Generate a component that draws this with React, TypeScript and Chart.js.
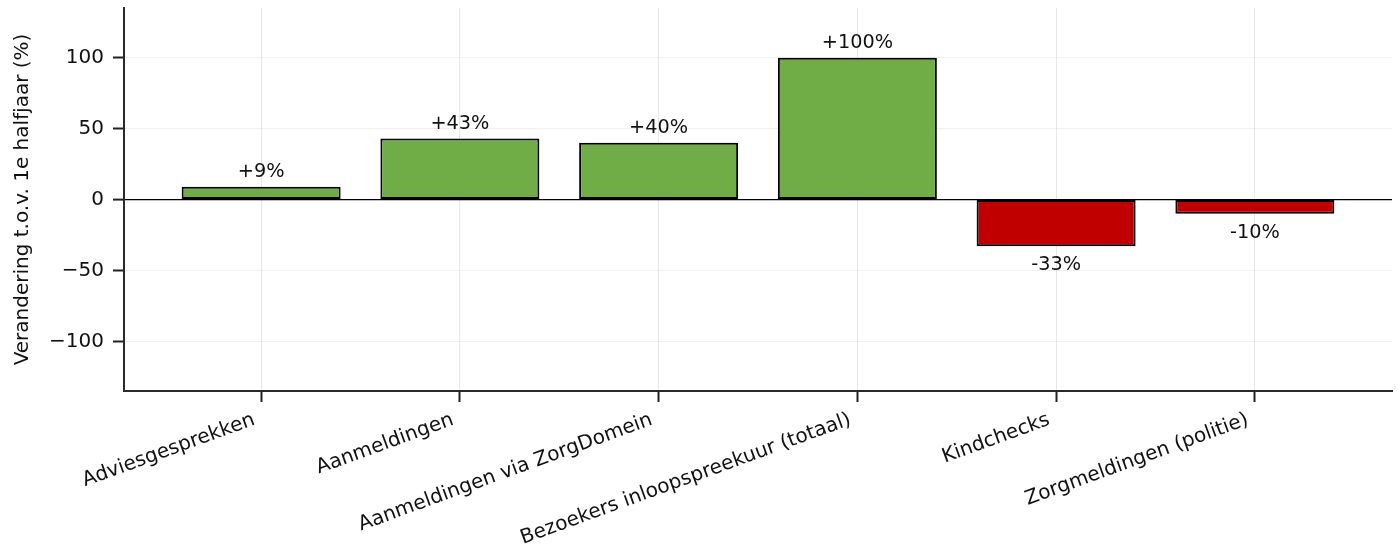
import React, { useEffect, useRef } from 'react';
import { Chart, registerables } from 'chart.js';

Chart.register(...registerables);

// ---- Data ----
const categories: string[] = [
  'Adviesgesprekken',
  'Aanmeldingen',
  'Aanmeldingen via ZorgDomein',
  'Bezoekers inloopspreekuur (totaal)',
  'Kindchecks',
  'Zorgmeldingen (politie)',
];
const changes: number[] = [9, 43, 40, 100, -33, -10];
const barLabels: string[] = ['+9%', '+43%', '+40%', '+100%', '-33%', '-10%'];
const yTickValues: number[] = [-100, -50, 0, 50, 100];
const yAxisTitle = 'Verandering t.o.v. 1e halfjaar (%)';

// ---- Styles ----
const FONT = '"DejaVu Sans", sans-serif';
const GREEN = '#70AD47';
const RED = '#C00000';
const TEXT = '#111111';

const barLabelPlugin = {
  id: 'barLabels',
  afterDatasetsDraw(chart: any) {
    const ctx = chart.ctx;
    const meta = chart.getDatasetMeta(0);
    ctx.save();
    ctx.font = `19.3px ${FONT}`;
    ctx.fillStyle = TEXT;
    ctx.textAlign = 'center';
    ctx.textBaseline = 'alphabetic';
    meta.data.forEach((el: any, i: number) => {
      const { x, y } = el.getProps(['x', 'y'], true);
      if (changes[i] >= 0) ctx.fillText(barLabels[i], x, y - 10);
      else ctx.fillText(barLabels[i], x, y + 24);
    });
    ctx.restore();
  },
};

export default function App() {
  const canvasRef = useRef<HTMLCanvasElement | null>(null);

  useEffect(() => {
    if (!canvasRef.current) return;
    const chart = new Chart(canvasRef.current, {
      type: 'bar',
      data: {
        datasets: [
          {
            data: changes.map((v, i) => ({ x: i, y: v })),
            backgroundColor: changes.map((v) => (v >= 0 ? GREEN : RED)),
            borderColor: '#000000',
            borderWidth: 2,
            borderSkipped: false,
            barPercentage: 0.8,
            categoryPercentage: 1.0,
          } as any,
        ],
      },
      options: {
        animation: false,
        responsive: false,
        devicePixelRatio: 1,
        layout: { padding: { top: 8, right: 6, left: 0, bottom: 0 } },
        plugins: {
          legend: { display: false },
          tooltip: { enabled: false },
          title: { display: false },
        },
        scales: {
          x: {
            type: 'linear',
            min: -0.69,
            max: 5.69,
            offset: false,
            afterBuildTicks: (s: any) => {
              s.ticks = categories.map((_, i) => ({ value: i }));
            },
            afterFit: (s: any) => {
              s.height = 159;
              s.paddingLeft = 0;
              s.paddingRight = 0;
            },
            ticks: {
              autoSkip: false,
              minRotation: 20,
              maxRotation: 20,
              padding: 6,
              labelOffset: -7,
              color: TEXT,
              font: { family: FONT, size: 20 },
              callback: (value: any) => categories[Math.round(Number(value))] ?? '',
            },
            grid: {
              display: true,
              offset: false,
              color: 'rgba(200,200,210,0.45)',
              lineWidth: 1,
              drawTicks: true,
              tickLength: 11,
              tickColor: '#222222',
              tickWidth: 2,
            },
            border: { display: true, color: '#2a2a2a', width: 2 },
          } as any,
          y: {
            type: 'linear',
            min: -135,
            max: 135,
            afterBuildTicks: (s: any) => {
              s.ticks = yTickValues.map((v) => ({ value: v }));
            },
            afterFit: (s: any) => {
              s.width = 124;
              s.paddingTop = 0;
              s.paddingBottom = 0;
            },
            ticks: {
              padding: 9,
              color: TEXT,
              font: { family: FONT, size: 20 },
              callback: (value: any) => {
                const n = Number(value);
                return n < 0 ? '\u2212' + Math.abs(n) : String(n);
              },
            },
            title: {
              display: true,
              text: yAxisTitle,
              color: TEXT,
              font: { family: FONT, size: 20 },
              padding: { top: 11, bottom: 0 },
            },
            grid: {
              display: true,
              color: (c: any) => (c.tick && c.tick.value === 0 ? '#000000' : 'rgba(220,220,220,0.45)'),
              lineWidth: (c: any) => (c.tick && c.tick.value === 0 ? 1.2 : 1),
              drawTicks: true,
              tickLength: 11,
              tickColor: '#222222',
              tickWidth: 2,
            },
            border: { display: true, color: '#2a2a2a', width: 2 },
          } as any,
        },
      },
      plugins: [barLabelPlugin],
    });
    return () => chart.destroy();
  }, []);

  return (
    <div style={{ position: 'fixed', left: 0, top: 0, width: 1398, height: 550, background: '#ffffff' }}>
      <canvas ref={canvasRef} width={1398} height={550} style={{ display: 'block' }} />
    </div>
  );
}
